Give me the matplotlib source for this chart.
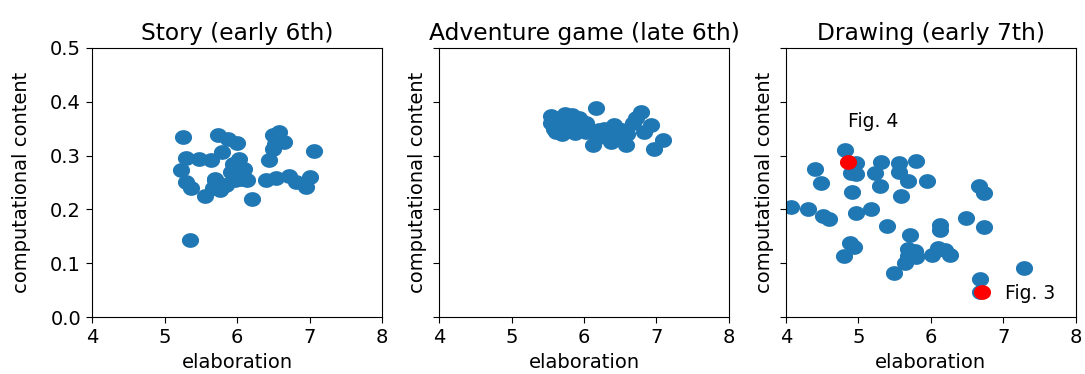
import numpy as np
import matplotlib
matplotlib.use("Agg")
import matplotlib.pyplot as plt
from matplotlib.path import Path

# elaboration / computational content per project
story_x = [5.25, 5.74, 5.87, 6.00, 5.79, 5.30, 5.47, 5.64, 5.22, 5.29, 5.37, 5.55,
           5.69, 6.02, 6.10, 5.92, 6.06, 6.13, 5.85, 5.76, 5.97, 6.21, 5.35, 6.49,
           6.58, 6.65, 6.52, 6.49, 6.44, 6.40, 6.54, 6.71, 6.81, 6.95, 7.01, 7.06,
           5.70, 5.67, 5.80, 5.95, 6.00]
story_y = [0.334, 0.339, 0.330, 0.324, 0.307, 0.296, 0.293, 0.291, 0.273, 0.251, 0.239, 0.225,
           0.256, 0.293, 0.276, 0.270, 0.257, 0.254, 0.246, 0.237, 0.254, 0.220, 0.143, 0.338,
           0.344, 0.325, 0.322, 0.313, 0.291, 0.254, 0.259, 0.262, 0.251, 0.242, 0.260, 0.308,
           0.254, 0.239, 0.245, 0.285, 0.265]

game_x = [5.54, 5.61, 5.74, 5.88, 5.93, 6.16, 6.12, 6.37, 6.42, 6.58, 6.79, 6.93,
          6.97, 7.09, 6.83, 6.67, 6.72, 6.21, 6.30, 6.49, 6.03, 6.03, 5.79, 5.65,
          5.83, 5.70, 5.54, 6.21, 6.52, 6.59, 5.60, 5.68, 5.77, 5.90, 5.58, 6.45,
          6.28]
game_y = [0.373, 0.344, 0.378, 0.342, 0.369, 0.388, 0.319, 0.325, 0.357, 0.319, 0.381, 0.357,
          0.313, 0.329, 0.344, 0.360, 0.369, 0.347, 0.341, 0.344, 0.360, 0.343, 0.350, 0.366,
          0.375, 0.341, 0.360, 0.335, 0.347, 0.341, 0.370, 0.355, 0.365, 0.355, 0.350, 0.335,
          0.350]

drawing_x = [4.81, 4.97, 4.40, 4.48, 4.90, 4.97, 4.91, 5.31, 5.23, 5.30, 5.56, 5.56,
             5.80, 5.69, 5.94, 5.59, 4.07, 4.30, 4.51, 4.59, 4.96, 5.17, 5.40, 5.71,
             6.12, 6.12, 6.48, 6.66, 6.74, 6.73, 4.88, 4.94, 4.80, 5.69, 5.78, 5.69,
             5.79, 5.64, 5.49, 6.01, 6.10, 6.20, 6.27, 7.28, 6.68, 6.68]
drawing_y = [0.310, 0.287, 0.276, 0.249, 0.267, 0.266, 0.233, 0.288, 0.267, 0.243, 0.287, 0.270,
             0.290, 0.252, 0.252, 0.225, 0.204, 0.201, 0.188, 0.182, 0.194, 0.201, 0.170, 0.152,
             0.171, 0.162, 0.185, 0.243, 0.230, 0.167, 0.137, 0.131, 0.113, 0.126, 0.123, 0.113,
             0.112, 0.100, 0.082, 0.115, 0.128, 0.124, 0.115, 0.092, 0.071, 0.046]

# highlighted drawings discussed in the text
fig_labels = ["Fig. 4", "Fig. 3"]
fig_x = [4.85, 6.71]
fig_y = [0.288, 0.046]

titles = ["Story (early 6th)", "Adventure game (late 6th)", "Drawing (early 7th)"]

plt.rcParams["font.size"] = 14
plt.rcParams["axes.titlesize"] = 16.8

# slightly wide dots
t = np.linspace(0, 2 * np.pi, 64)
dot = Path(np.column_stack([1.18 * np.cos(t), np.sin(t)]))

fig, axes = plt.subplots(1, 3, figsize=(10.85, 3.74), dpi=100, sharey=True)
fig.subplots_adjust(left=0.085, right=0.9915, bottom=0.152, top=0.872, wspace=0.197)

data = [(story_x, story_y), (game_x, game_y), (drawing_x, drawing_y)]
for ax, (xs, ys), title in zip(axes, data, titles):
    ax.scatter(xs, ys, s=128, marker=dot, color="#1f77b4")
    ax.set_title(title)
    ax.set_xlim(4, 8)
    ax.set_ylim(0, 0.5)
    ax.set_xticks([4, 5, 6, 7, 8])
    ax.set_yticks([0.0, 0.1, 0.2, 0.3, 0.4, 0.5])
    ax.set_xlabel("elaboration")
    ax.set_ylabel("computational content")
    ax.tick_params(length=4.5)

# first panel carries the tick labels, push its label clear of them
axes[0].set_ylabel("computational content", labelpad=14)

ax = axes[2]
ax.scatter(fig_x, fig_y, s=128, marker=dot, color="red", zorder=3)
ax.text(4.86, 0.364, fig_labels[0], ha="left", va="center", fontsize=13.5)
ax.text(7.02, 0.044, fig_labels[1], ha="left", va="center", fontsize=13.5)

fig.savefig("out.png", dpi=100)
